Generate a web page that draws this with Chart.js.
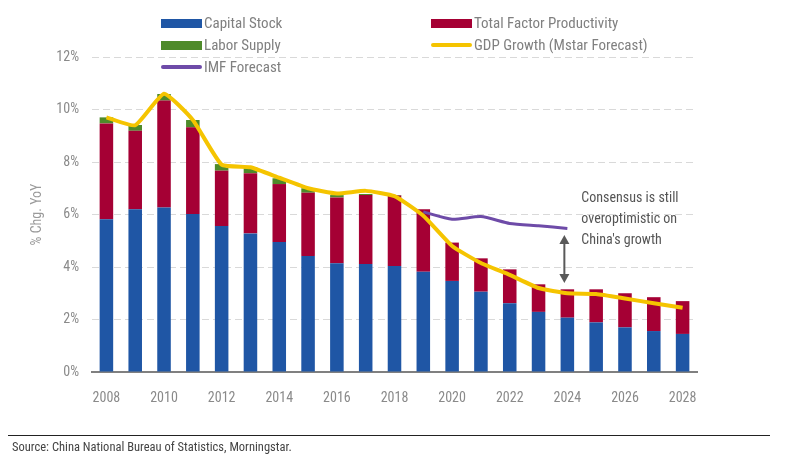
<!DOCTYPE html>
<html>
<head>
<meta charset="utf-8">
<script src="https://cdn.jsdelivr.net/npm/chart.js@4.4.1/dist/chart.umd.min.js"></script>
<style>
  body { margin: 0; background: #fff; }
  #wrap { position: relative; width: 791px; height: 475px; font-family: "Roboto Condensed", "DejaVu Sans Condensed", sans-serif; }
  #chart { position: absolute; left: 0; top: 0; }
  .lg { position: absolute; font-size: 15px; color: #808080; line-height: 18px; white-space: nowrap; }
  .lg i { display: inline-block; width: 41px; vertical-align: middle; margin-right: 2px; position: relative; top: -1px; }
  .box { height: 9px; }
  .ln { height: 4px; border-radius: 2px; }
  #rule { position: absolute; left: 8px; top: 435px; width: 762px; height: 1px; background: #222; }
  #source { position: absolute; left: 12px; top: 439px; font-size: 12.5px; color: #444; }
</style>
</head>
<body>
<div id="wrap">
  <canvas id="chart" width="791" height="475"></canvas>
  <div class="lg" style="left:161px;top:14px"><i class="box" style="background:#1f56a5"></i>Capital Stock</div>
  <div class="lg" style="left:431px;top:14px"><i class="box" style="background:#a50034"></i>Total Factor Productivity</div>
  <div class="lg" style="left:161px;top:36px"><i class="box" style="background:#4e8a2a"></i>Labor Supply</div>
  <div class="lg" style="left:431px;top:36px"><i class="ln" style="background:#f5c400"></i>GDP Growth (Mstar Forecast)</div>
  <div class="lg" style="left:161px;top:58px"><i class="ln" style="background:#6e4ba8"></i>IMF Forecast</div>
  <div id="rule"></div>
  <div id="source">Source: China National Bureau of Statistics, Morningstar.</div>
</div>
<script>
const years = ['2008','2009','2010','2011','2012','2013','2014','2015','2016','2017','2018',
               '2019','2020','2021','2022','2023','2024','2025','2026','2027','2028'];

const capitalStock = [5.82, 6.20, 6.27, 6.02, 5.56, 5.28, 4.95, 4.42, 4.14, 4.11, 4.04,
                      3.82, 3.47, 3.06, 2.62, 2.29, 2.07, 1.89, 1.70, 1.56, 1.45];
const tfp = [3.65, 2.99, 4.07, 3.30, 2.11, 2.29, 2.21, 2.41, 2.51, 2.63, 2.68,
             2.38, 1.46, 1.27, 1.29, 1.05, 1.08, 1.26, 1.30, 1.29, 1.25];
const laborSupply = [0.23, 0.22, 0.25, 0.28, 0.25, 0.23, 0.22, 0.17, 0.09, 0.04, 0.02,
                     -0.03, -0.03, -0.03, -0.03, -0.03, -0.03, -0.03, -0.03, -0.03, -0.03];
const gdpGrowth = [9.7, 9.4, 10.6, 9.6, 7.9, 7.8, 7.4, 7.0, 6.8, 6.9, 6.7,
                   5.95, 4.8, 4.15, 3.7, 3.2, 3.0, 2.97, 2.8, 2.62, 2.45];
const imfForecast = [null, null, null, null, null, null, null, null, null, null, null,
                     6.1, 5.82, 5.92, 5.66, 5.57, 5.47, null, null, null, null];
const yTicks = [0, 2, 4, 6, 8, 10, 12];

const FONT = '"Roboto Condensed", "DejaVu Sans Condensed", sans-serif';

// arrow + note showing the gap between IMF and Mstar in 2024
const gapNote = {
  id: 'gapNote',
  afterDatasetsDraw(chart) {
    const ctx = chart.ctx;
    const x = chart.scales.x.getPixelForValue(16) - 3;
    const y1 = chart.scales.y.getPixelForValue(5.22);
    const y2 = chart.scales.y.getPixelForValue(3.39);
    ctx.save();
    ctx.strokeStyle = '#595959';
    ctx.fillStyle = '#595959';
    ctx.lineWidth = 2;
    ctx.beginPath();
    ctx.moveTo(x, y1 + 6);
    ctx.lineTo(x, y2 - 6);
    ctx.stroke();
    ctx.beginPath();
    ctx.moveTo(x, y1); ctx.lineTo(x - 5, y1 + 9); ctx.lineTo(x + 5, y1 + 9); ctx.closePath();
    ctx.fill();
    ctx.beginPath();
    ctx.moveTo(x, y2); ctx.lineTo(x - 5, y2 - 9); ctx.lineTo(x + 5, y2 - 9); ctx.closePath();
    ctx.fill();
    ctx.font = '14px ' + FONT;
    ctx.fillStyle = '#555';
    ctx.textBaseline = 'middle';
    const lines = ['Consensus is still', 'overoptimistic on', "China's growth"];
    lines.forEach((t, i) => ctx.fillText(t, x + 17, chart.scales.y.getPixelForValue(6.62) + i * 21));
    ctx.restore();
  }
};

new Chart(document.getElementById('chart').getContext('2d'), {
  type: 'bar',
  data: {
    labels: years,
    datasets: [
      { type: 'line', label: 'GDP Growth (Mstar Forecast)', data: gdpGrowth, borderColor: '#f5c400',
        borderWidth: 4, pointRadius: 0, tension: 0.15, stack: 'gdp', order: 0 },
      { type: 'line', label: 'IMF Forecast', data: imfForecast, borderColor: '#6e4ba8',
        borderWidth: 3, pointRadius: 0, tension: 0.2, stack: 'imf', order: 0 },
      { label: 'Capital Stock', data: capitalStock, backgroundColor: '#1f56a5', stack: 's', order: 1 },
      { label: 'Total Factor Productivity', data: tfp, backgroundColor: '#a50034', stack: 's', order: 1 },
      { label: 'Labor Supply', data: laborSupply, backgroundColor: '#4e8a2a', stack: 's', order: 1 }
    ]
  },
  options: {
    responsive: false,
    animation: false,
    devicePixelRatio: 1,
    layout: { padding: { left: 0, right: 94, top: 57, bottom: 63 } },
    datasets: { bar: { barPercentage: 0.47, categoryPercentage: 1 } },
    plugins: { legend: { display: false }, tooltip: { enabled: false } },
    scales: {
      x: {
        stacked: true,
        grid: { display: false },
        border: { color: '#808080', width: 2 },
        ticks: {
          autoSkip: false, maxRotation: 0, padding: 10,
          color: '#8a8a8a', font: { family: FONT, size: 14 },
          callback: (v, i) => (i % 2 === 0 ? years[i] : '')
        },
        afterFit: s => { s.height = 40; }
      },
      y: {
        stacked: true,
        min: 0, max: 12,
        afterBuildTicks: s => { s.ticks = yTicks.map(v => ({ value: v })); },
        grid: { color: '#d9d9d9', drawTicks: false },
        border: { display: false, dash: [7, 4] },
        ticks: {
          padding: 13, color: '#8a8a8a', font: { family: FONT, size: 14 },
          callback: v => v + '%'
        },
        title: { display: true, text: '% Chg. YoY', color: '#9a9a9a', font: { family: FONT, size: 14 }, padding: { top: 29, bottom: 0 } },
        afterFit: s => { s.width = 92; }
      }
    }
  },
  plugins: [gapNote]
});
</script>
</body>
</html>
